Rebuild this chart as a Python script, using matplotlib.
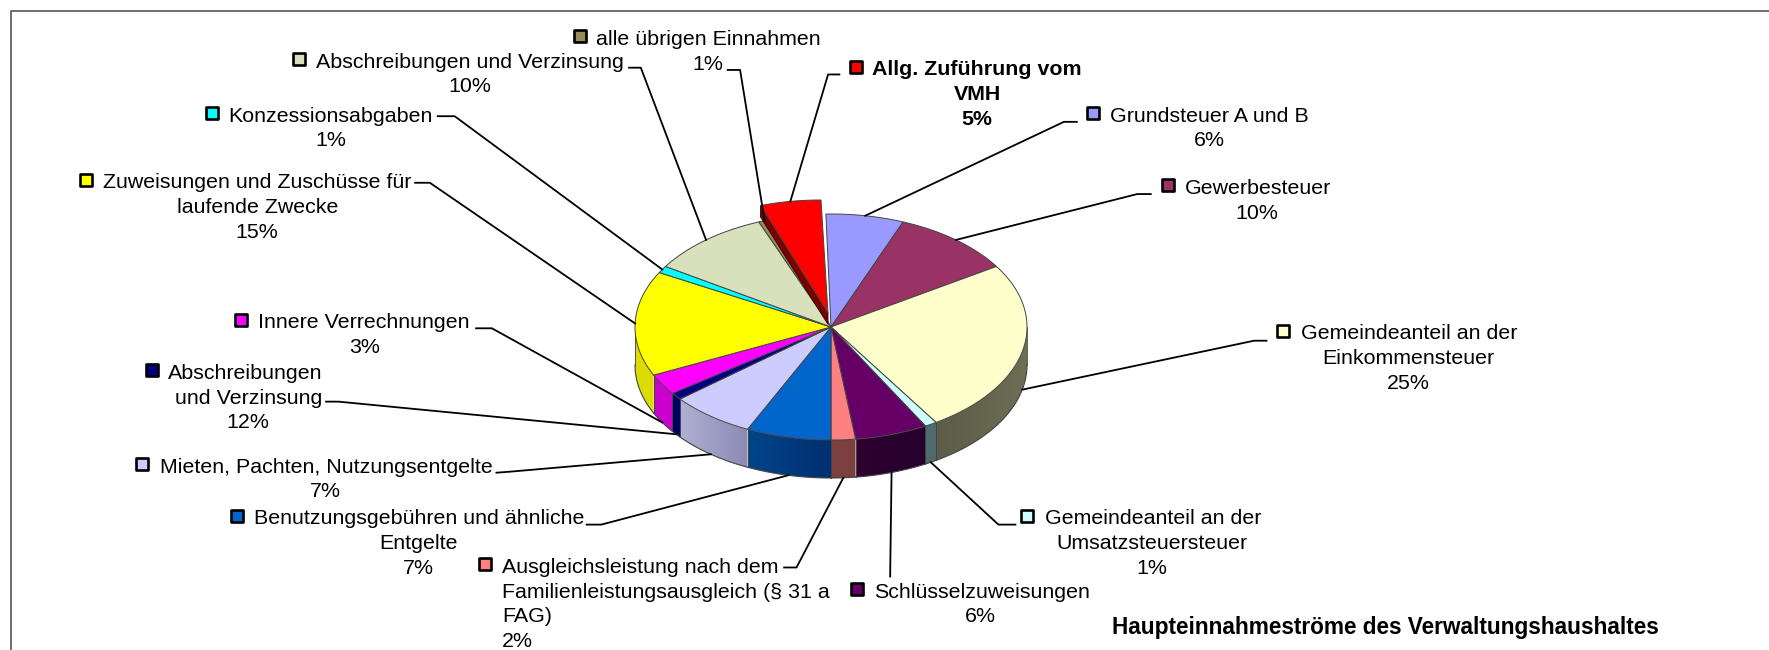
import numpy as np
import matplotlib
matplotlib.use("Agg")
import matplotlib.pyplot as plt
from matplotlib.colors import to_rgb
from matplotlib.patches import Polygon

plt.rcParams["font.family"] = ["Liberation Sans", "DejaVu Sans"]

# slice sizes, clockwise from 12 o'clock
slice_names = [
    "Grundsteuer A und B", "Gewerbesteuer", "Gemeindeanteil Einkommensteuer",
    "Gemeindeanteil Umsatzsteuer", "Schlüsselzuweisungen", "Ausgleichsleistung",
    "Benutzungsgebühren", "Mieten", "Abschreibungen und Verzinsung (Ausgaben)",
    "Innere Verrechnungen", "Zuweisungen", "Konzessionsabgaben",
    "Abschreibungen und Verzinsung", "alle übrigen Einnahmen", "Allg. Zuführung",
]
slice_values = [6, 10, 25, 1, 6, 2, 7, 7, 1, 3, 15, 1, 10, 1, 5]

# printed label percentages (the navy slice is labelled 12 % in the original)
label_pct = ["6%", "10%", "25%", "1%", "6%", "2%", "7%", "7%", "12%", "3%", "15%", "1%", "10%", "1%", "5%"]

label_lines = [
    ["Grundsteuer A und B"],
    ["Gewerbesteuer"],
    ["Gemeindeanteil an der", "Einkommensteuer"],
    ["Gemeindeanteil an der", "Umsatzsteuersteuer"],
    ["Schlüsselzuweisungen"],
    ["Ausgleichsleistung nach dem", "Familienleistungsausgleich (§ 31 a", "FAG)"],
    ["Benutzungsgebühren und ähnliche", "Entgelte"],
    ["Mieten, Pachten, Nutzungsentgelte"],
    ["Abschreibungen", "und Verzinsung"],
    ["Innere Verrechnungen"],
    ["Zuweisungen und Zuschüsse für", "laufende Zwecke"],
    ["Konzessionsabgaben"],
    ["Abschreibungen und Verzinsung"],
    ["alle übrigen Einnahmen"],
    ["Allg. Zuführung vom", "VMH"],
]

top_colors = ["#9999ff", "#993366", "#ffffcc", "#ccffff", "#660066", "#ff8080", "#0066cc", "#ccccff",
              "#000080", "#ff00ff", "#ffff00", "#00ffff", "#d8e0bc", "#968c5a", "#ff0000"]
side_colors = [("#7a7acc", "#7a7acc"), ("#7a2952", "#7a2952"), ("#6e6e55", "#5c5c48"), ("#4f6a6a", "#4f6a6a"),
               ("#26002c", "#2e0030"), ("#7c4040", "#7c4040"), ("#003070", "#004488"), ("#8a8ab4", "#b0b0d4"),
               ("#000060", "#000060"), ("#cc00cc", "#cc00cc"), ("#dcdc00", "#dcdc00"), ("#00cccc", "#00cccc"),
               ("#aab090", "#aab090"), ("#6e6844", "#6e6844"), ("#7a0000", "#7a0000")]

# layout in reference pixels
SCALE = 1769 / 1568
CX, CY = 831, 327
RX, RY = 196, 113
DEPTH = 38
# pulled out slice: rim offset, and the tip moves less because of the perspective
EXPLODE = {14: (-10, -14)}
TIP_OFFSET = {14: (-3, -14)}
CUT_FACE = 0.3  # share of DEPTH still visible on the pulled out slice
FIRST_LEAN = -0.026  # first edge leans left of 12 o'clock
LINE_STEP = 24.7
FONT_SIZE = 15.4
TITLE_SIZE = 16.3

# x of key, x of text, x of line centre (None = left aligned), y of first line, in shown pixels
label_pos = [
    (969, 984, 1072, 103), (1035, 1050, 1114, 167), (1137, 1153, 1248, 296), (910, 926, 1021, 460),
    (760, 775, 869, 525), (430, 445, None, 503), (210, 225, 371, 460), (126, 142, 288, 414),
    (135, 149, 220, 331), (214, 229, 323, 286), (76, 91, 228, 162), (188, 202, 293, 103),
    (265, 280, 416, 55), (514, 528, 627, 35), (759, 773, 866, 62),
]
# leader start and elbow, shown pixels
leader_pos = [
    ((954.5, 108), (943, 108)), ((1020, 172), (1008, 172)), ((1122.6, 302), (1111.5, 302)), ((900, 465), (885, 465)),
    ((789, 511), (789, 511)), ((695, 503), (706, 503)), ((520, 465), (533, 465)), ((440, 419), (453, 418)),
    ((289, 356), (300, 356)), ((422, 291), (436, 291)), ((368, 162), (381, 162)), ((388, 103), (403, 103)),
    ((557.6, 60), (568, 60)), ((645, 62), (656, 62)), ((744, 66), (734, 66)),
]


def ellipse_pts(t, dx=0.0, dy=0.0):
    return CX + dx + RX * np.sin(t), CY + dy - RY * np.cos(t)


fig = plt.figure(figsize=(17.69, 6.5), dpi=100)
ax = fig.add_axes([0, 0, 1, 1])
ax.axis("off")

# chart frame, only left and top show in the crop
ax.plot([10.5, 10.5, 1769], [650, 10.5, 10.5], color="#555555", lw=1.2)

edges = np.cumsum([0] + slice_values) / sum(slice_values) * 2 * np.pi
edges[0] = FIRST_LEAN
EDGE = "#444444"

# side walls first, only the part facing the viewer
for i in range(len(slice_values)):
    ox, oy = EXPLODE.get(i, (0, 0))
    t0 = max(edges[i], np.pi / 2)
    t1 = min(edges[i + 1], 3 * np.pi / 2)
    if t1 <= t0:
        continue
    ts = np.linspace(t0, t1, 60)
    x, y = ellipse_pts(ts, ox, oy)
    wall = Polygon(np.c_[np.r_[x, x[::-1]], np.r_[y, y[::-1] + DEPTH]], closed=True, transform=ax.transData)

    # horizontal gradient, first colour sits at the start angle
    c_a, c_b = np.array(to_rgb(side_colors[i][0])), np.array(to_rgb(side_colors[i][1]))
    if x[0] > x[-1]:
        c_a, c_b = c_b, c_a
    fade = np.linspace(0, 1, 64)[None, :, None]
    im = ax.imshow(c_a + (c_b - c_a) * fade, extent=(x.min(), x.max(), y.max() + DEPTH, y.min()),
                   aspect="auto", interpolation="bilinear", zorder=2)
    im.set_clip_path(wall)

    ax.plot(x, y + DEPTH, color=EDGE, lw=0.8, zorder=3)
    ax.plot([x[0], x[0]], [y[0], y[0] + DEPTH], color=EDGE, lw=0.6, zorder=3)
    ax.plot([x[-1], x[-1]], [y[-1], y[-1] + DEPTH], color=EDGE, lw=0.6, zorder=3)

ax.set_xlim(0, 1769)
ax.set_ylim(650, 0)

# top faces, exploded slice gets its dark cut face below
for i in range(len(slice_values)):
    ox, oy = EXPLODE.get(i, (0, 0))
    tx, ty = TIP_OFFSET.get(i, (0, 0))
    ts = np.linspace(edges[i], edges[i + 1], 60)
    x, y = ellipse_pts(ts, ox, oy)
    px = np.r_[CX + tx, x]
    py = np.r_[CY + ty, y]
    if i in EXPLODE:
        cut = DEPTH * CUT_FACE
        ax.fill([CX + tx, x[0], x[0], CX + tx], [CY + ty, y[0], y[0] + cut, CY + ty + cut],
                color=side_colors[i][0], ec="#300000", lw=0.6, zorder=5.5)
    ax.fill(px, py, facecolor=top_colors[i], edgecolor=EDGE, lw=0.7, zorder=6 if i in EXPLODE else 5)

# leaders end at the slice middle, on the lower rim for the front slices
for i in range(len(slice_values)):
    ox, oy = EXPLODE.get(i, (0, 0))
    mid = (edges[i] + edges[i + 1]) / 2
    ex, ey = ellipse_pts(mid, ox, oy)
    if np.pi / 2 < mid < 3 * np.pi / 2:
        ey += DEPTH
    (sx, sy), (bx, by) = leader_pos[i]
    ax.plot([sx * SCALE, bx * SCALE, ex], [sy * SCALE, by * SCALE, ey], color="black", lw=1.3, zorder=6.5)

# labels with their little legend keys
for i, lines in enumerate(label_lines):
    kx, tx, mx, ty = label_pos[i]
    weight = "bold" if i == 14 else "normal"
    y0 = ty * SCALE
    ax.scatter([kx * SCALE], [y0 - 3], marker="s", s=72, facecolor=top_colors[i], edgecolor="black",
               linewidth=1.9, zorder=7)
    ax.text(tx * SCALE, y0, lines[0], ha="left", va="center", fontsize=FONT_SIZE, fontweight=weight, zorder=7)
    rest = lines[1:] + [label_pct[i]]
    for n, line in enumerate(rest):
        y = y0 + (n + 1) * LINE_STEP
        if mx is None:
            ax.text(tx * SCALE, y, line, ha="left", va="center", fontsize=FONT_SIZE, fontweight=weight, zorder=7)
        else:
            ax.text(mx * SCALE, y, line, ha="center", va="center", fontsize=FONT_SIZE, fontweight=weight, zorder=7)

ax.text(986 * SCALE, 556 * SCALE, "Haupteinnahmeströme des Verwaltungshaushaltes", ha="left", va="center",
        fontsize=TITLE_SIZE, fontweight="bold", zorder=7)

fig.savefig("out.png", dpi=100)
